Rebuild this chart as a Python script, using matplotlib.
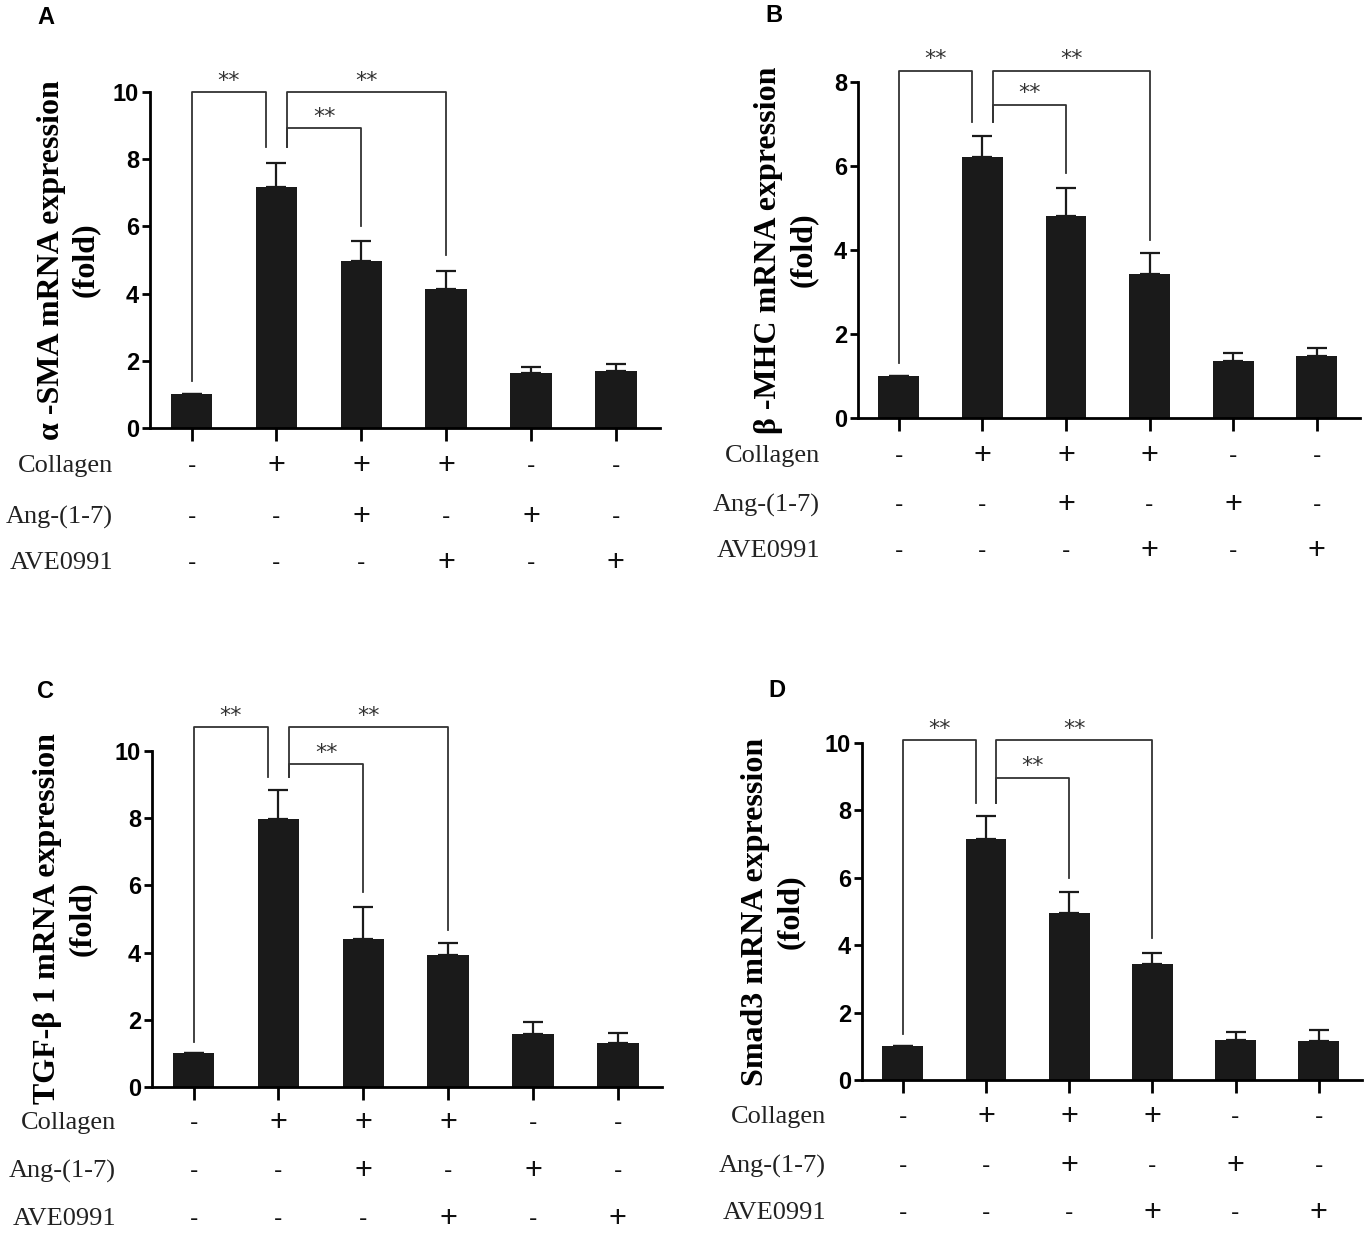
import numpy as np
import matplotlib.pyplot as plt

# values (fold change, mean and upper error bar)
means_a = [1.0, 7.18, 4.96, 4.13, 1.64, 1.69]
tops_a = [1.0, 7.89, 5.58, 4.68, 1.82, 1.90]
means_b = [1.0, 6.22, 4.81, 3.44, 1.35, 1.48]
tops_b = [1.0, 6.71, 5.47, 3.92, 1.55, 1.66]
means_c = [1.0, 7.98, 4.40, 3.94, 1.58, 1.32]
tops_c = [1.0, 8.84, 5.35, 4.29, 1.94, 1.62]
means_d = [1.0, 7.14, 4.96, 3.44, 1.20, 1.17]
tops_d = [1.0, 7.82, 5.58, 3.76, 1.42, 1.49]

# significance brackets: (left bar, right bar, top, left leg end, right leg end)
brackets_a = [(0, 1, 10.0, 1.39, 8.35), (1, 3, 10.0, 8.35, 5.15), (1, 2, 8.92, 8.35, 6.0)]
brackets_b = [(0, 1, 8.27, 1.32, 7.04), (1, 3, 8.27, 7.04, 4.24), (1, 2, 7.46, 7.04, 5.84)]
brackets_c = [(0, 1, 10.7, 1.34, 9.22), (1, 3, 10.7, 9.22, 4.67), (1, 2, 9.6, 9.22, 5.79)]
brackets_d = [(0, 1, 10.09, 1.36, 8.23), (1, 3, 10.09, 8.23, 4.2), (1, 2, 8.97, 8.23, 6.0)]

treatments = ["Collagen", "Ang-(1-7)", "AVE0991"]
collagen = ["-", "+", "+", "+", "-", "-"]
ang = ["-", "-", "+", "-", "+", "-"]
ave = ["-", "-", "-", "+", "-", "+"]

ylabels = ["α -SMA mRNA expression\n(fold)", "β -MHC mRNA expression\n(fold)",
           "TGF-β 1 mRNA expression\n(fold)", "Smad3 mRNA expression\n(fold)"]

W, H = 1367, 1235
fig = plt.figure(figsize=(W / 100, H / 100), dpi=100)

# pixel layout: axis left, axis right, y top, y bottom, row label y's, label x
panels = [
    dict(letter="A", m=means_a, t=tops_a, br=brackets_a, ymax=10, px=(150, 660, 92, 428),
         rows=(466, 517, 563), lab_x=113, ylab=-0.098, let=(37, 18)),
    dict(letter="B", m=means_b, t=tops_b, br=brackets_b, ymax=8, px=(858, 1360, 82, 418),
         rows=(456, 505, 551), lab_x=820, ylab=-0.08, let=(765, 15)),
    dict(letter="C", m=means_c, t=tops_c, br=brackets_c, ymax=10, px=(152, 662, 751, 1087),
         rows=(1123, 1171, 1219), lab_x=116, ylab=-0.108, let=(37, 692)),
    dict(letter="D", m=means_d, t=tops_d, br=brackets_d, ymax=10, px=(862, 1362, 743, 1080),
         rows=(1117, 1166, 1213), lab_x=826, ylab=-0.115, let=(768, 690)),
]

x = np.arange(6)
for p, ylabel in zip(panels, ylabels):
    l, r, top, bot = p["px"]
    ax = fig.add_axes([l / W, 1 - bot / H, (r - l) / W, (bot - top) / H])
    m = np.array(p["m"])
    err = np.array(p["t"]) - m
    ax.errorbar(x, m, yerr=[np.zeros(6), err], fmt="none", ecolor="#1a1a1a",
                elinewidth=1.6, capsize=7, capthick=1.6, zorder=1)
    ax.bar(x, m, width=0.49, color="#1a1a1a", zorder=2)
    ax.set_xlim(-0.49, 5.52)
    ax.set_ylim(0, p["ymax"])
    ax.set_yticks(np.arange(0, p["ymax"] + 1, 2))
    ax.set_xticks(x)
    ax.set_xticklabels([])
    for s in ["top", "right"]:
        ax.spines[s].set_visible(False)
    for s in ["left", "bottom"]:
        ax.spines[s].set_linewidth(2.0)
    ax.tick_params(axis="y", direction="out", length=6, width=2.0, labelsize=17, pad=2)
    ax.tick_params(axis="x", direction="out", length=9, width=2.0)
    for lab in ax.get_yticklabels():
        lab.set_fontweight("bold")
        lab.set_fontfamily("Liberation Sans")
    ax.set_ylabel(ylabel, fontsize=23, fontweight="bold", family="Liberation Serif",
                  linespacing=1.25)
    ax.yaxis.set_label_coords(p["ylab"], 0.5)

    # significance brackets
    for i, j, ytop, yl, yr in p["br"]:
        xl = i + (0.125 if i == 1 else 0)
        xr = j - (0.125 if j == 1 else 0)
        ax.plot([xl, xl, xr, xr], [yl, ytop, ytop, yr], color="#333333", lw=1.3,
                clip_on=False, zorder=3)
        ax.text((xl + xr) / 2, ytop + 0.04 * p["ymax"] / 10, "**", ha="center", va="bottom",
                fontsize=16, color="#333333", family="DejaVu Sans", clip_on=False)

    # treatment table below the axis
    for name, signs, ry in zip(treatments, [collagen, ang, ave], p["rows"]):
        yf = 1 - ry / H
        fig.text(p["lab_x"] / W, yf, name, ha="right", va="center", fontsize=19,
                 family="Liberation Serif", color="#222222")
        for xi, s in zip(x, signs):
            xd = ax.transData.transform((xi, 0))[0]
            fig.text(xd / W, yf, s, ha="center", va="center",
                     fontsize=22 if s == "+" else 18, family="Liberation Sans", color="#111111")

    fig.text(p["let"][0] / W, 1 - p["let"][1] / H, p["letter"], ha="left", va="center",
             fontsize=17, fontweight="bold", family="Liberation Sans")

fig.savefig("out.png", dpi=100)
